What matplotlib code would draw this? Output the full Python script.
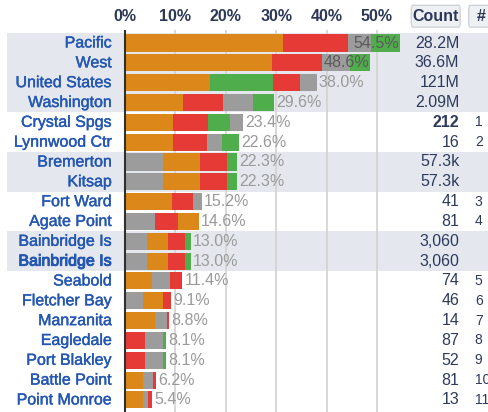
import matplotlib.pyplot as plt
import matplotlib.patheffects as pe
from matplotlib.patches import FancyBboxPatch

plt.rcParams['font.family'] = ['Liberation Sans', 'DejaVu Sans']

# ----------------------------
# data
# ----------------------------
names = ["Pacific", "West", "United States", "Washington", "Crystal Spgs",
         "Lynnwood Ctr", "Bremerton", "Kitsap", "Fort Ward", "Agate Point",
         "Bainbridge Is", "Bainbridge Is", "Seabold", "Fletcher Bay",
         "Manzanita", "Eagledale", "Port Blakley", "Battle Point", "Point Monroe"]
orange = [31.3, 29.2, 16.9, 11.5, 9.5, 9.5, 7.3, 7.3, 9.3, 4.0,
          4.2, 4.2, 5.3, 4.0, 5.9, 0.0, 0.0, 3.6, 3.6]
red = [13.0, 9.9, 5.4, 7.9, 6.9, 6.7, 5.4, 5.4, 4.2, 4.6,
       3.4, 3.4, 2.5, 1.5, 0.5, 4.0, 4.0, 0.6, 0.8]
gray = [4.6, 5.6, 3.2, 6.0, 2.6, 3.0, 7.5, 7.5, 1.7, 6.0,
        4.3, 4.3, 3.6, 3.6, 2.4, 3.6, 3.6, 2.0, 1.0]
green = [5.6, 3.9, 12.5, 4.2, 4.4, 3.4, 2.1, 2.1, 0.0, 0.0,
         1.1, 1.1, 0.0, 0.0, 0.0, 0.5, 0.5, 0.0, 0.0]
# stacking order of the segments in each row (O=orange R=red Y=gray G=green)
order = ["ORYG", "ORYG", "OGRY", "ORYG", "ORGY", "ORYG", "YORG", "YORG", "ORY",
         "YRO", "YORG", "YORG", "OYR", "YOR", "OYR", "RYG", "RYG", "OYR", "OYR"]
totals = ["54.5%", "48.6%", "38.0%", "29.6%", "23.4%", "22.6%", "22.3%", "22.3%",
          "15.2%", "14.6%", "13.0%", "13.0%", "11.4%", "9.1%", "8.8%", "8.1%",
          "8.1%", "6.2%", "5.4%"]
counts = ["28.2M", "36.6M", "121M", "2.09M", "212", "16", "57.3k", "57.3k", "41",
          "81", "3,060", "3,060", "74", "46", "14", "87", "52", "81", "13"]
ranks = ["", "", "", "", "1", "2", "", "", "3", "4", "", "", "5", "6", "7",
         "8", "9", "10", "11"]
shaded_rows = [0, 1, 2, 3, 6, 7, 10, 11]
ticks = [0, 10, 20, 30, 40, 50]

colors = {"O": "#dc8719", "R": "#e63a37", "Y": "#9c9c9c", "G": "#4fae4b"}
values = {"O": orange, "R": red, "Y": gray, "G": green}


def thick(lw, c):
    return [pe.withStroke(linewidth=lw, foreground=c)]


fig = plt.figure(figsize=(4.89, 4.12), dpi=100)
ax = fig.add_axes([0, 0, 1, 1])
ax.axis('off')
# 0% at 125 px, 5.04 px per percent; row 0 at 43 px, 19.83 px per row
ax.set_xlim(-125 / 5.04, (489 - 125) / 5.04)
ax.set_ylim((412 - 43) / 19.83, -43 / 19.83)

n = len(names)
for i in shaded_rows:
    ax.axhspan(i - 0.5, i + 0.5, xmin=7 / 489, xmax=1, color="#e4e8ee", lw=0, zorder=0)

top = -0.68
ax.vlines(ticks[1:], top, n, color="#d2d2d2", lw=1.2, zorder=1)
ax.vlines(0, top, n, color="#303030", lw=1.5, zorder=3)
for t in ticks:
    ax.text(t, -1.36, f"{t}%", ha="center", va="center", fontsize=11.5,
            fontweight="bold", color="#2c3858")

for i in range(n):
    left = 0
    for k in order[i]:
        w = values[k][i]
        ax.barh(i, w, left=left, height=0.86, color=colors[k], lw=0, zorder=2)
        left += w
    if left > 45:
        ax.text(left - 0.2, i, totals[i], ha="right", va="center", fontsize=11.5,
                color="#5a5a5a", zorder=4)
    else:
        ax.text(left + 0.4, i, totals[i], ha="left", va="center", fontsize=11.5,
                color="#9a9a9a", zorder=4)
    ax.text(-2.6, i, names[i], ha="right", va="center", fontsize=11.5,
            color="#2457b2", path_effects=thick(0.7 if i == 11 else 0.3, "#2457b2"))
    ax.text(66.3, i, counts[i], ha="right", va="center", fontsize=11.5,
            color="#2d3a5c", fontweight="bold" if counts[i] == "212" else "normal")
    ax.text(69.4, i, ranks[i], ha="left", va="center", fontsize=10, color="#2d3a5c")

# column header buttons
for x0, x1 in [(56.8, 66.5), (68.2, 74.0)]:
    ax.add_patch(FancyBboxPatch((x0, -1.9), x1 - x0, 1.1,
                                boxstyle="round,pad=0,rounding_size=0.3",
                                fc="#eef0f3", ec="#cfd3d9", lw=1, zorder=1))
ax.text(61.6, -1.36, "Count", ha="center", va="center", fontsize=11.5,
        fontweight="bold", color="#2c3858")
ax.text(69.8, -1.36, "#", ha="left", va="center", fontsize=11.5,
        fontweight="bold", color="#2c3858")

plt.savefig("out.png", dpi=100)
